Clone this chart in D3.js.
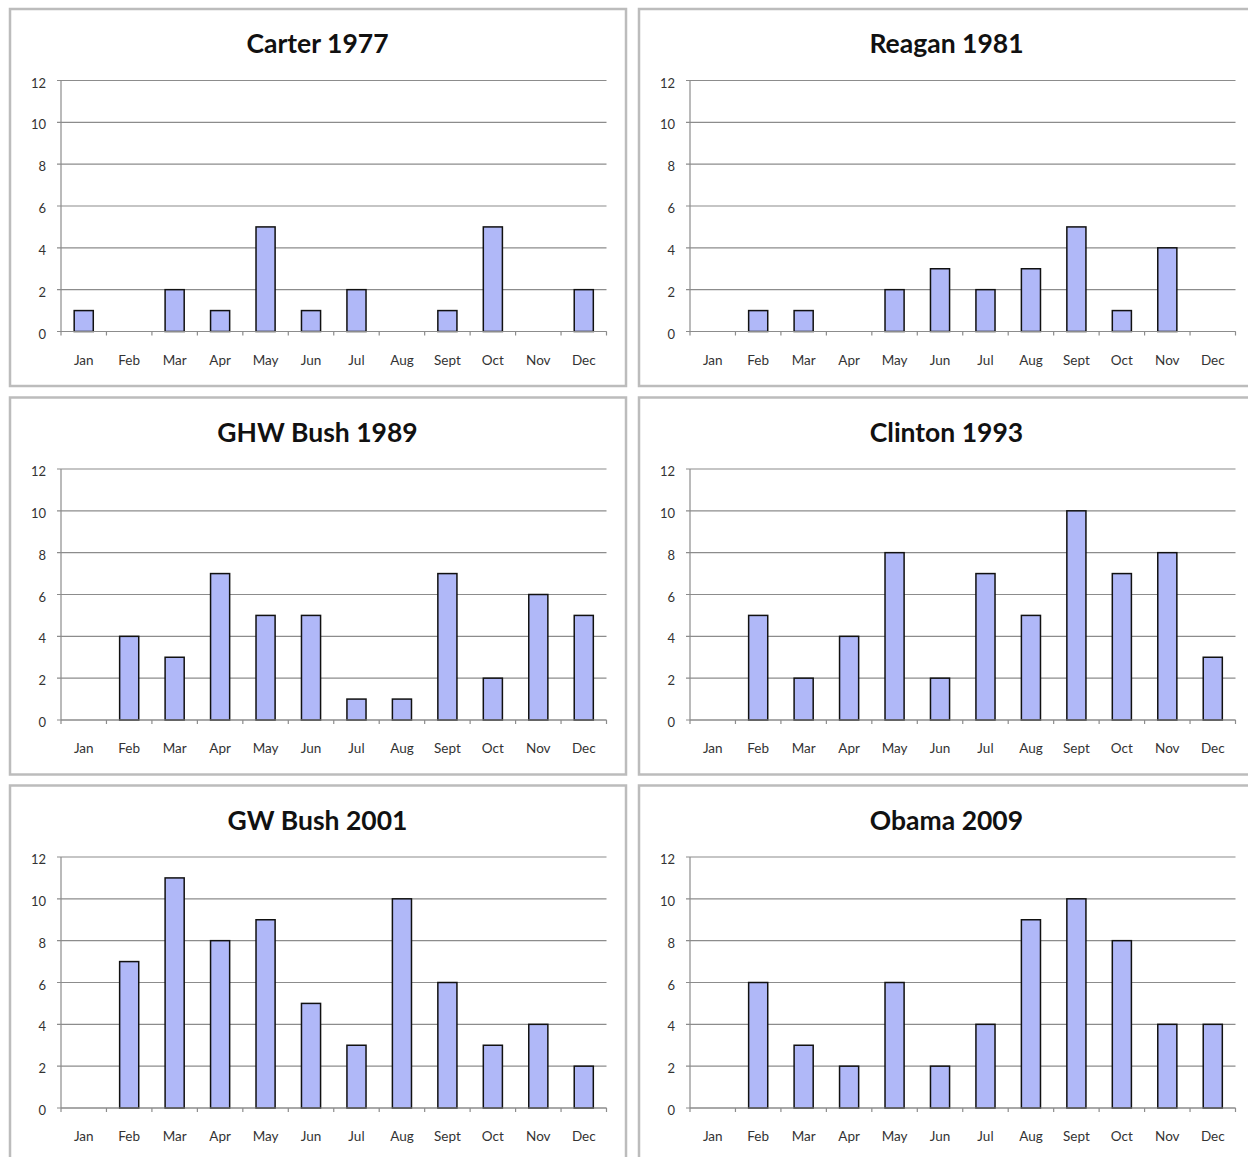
<!DOCTYPE html>
<html>
<head>
<meta charset="utf-8">
<script src="https://cdn.jsdelivr.net/npm/d3@7"></script>
<style>
  html, body { margin: 0; padding: 0; background: #fff; }
  svg { display: block; }
  text { font-family: Lato, "Open Sans", sans-serif; }
</style>
</head>
<body>
<svg id="chart" width="1248" height="1157"></svg>
<script>
// Monthly counts for the first year of each administration
const months = ["Jan", "Feb", "Mar", "Apr", "May", "Jun", "Jul", "Aug", "Sept", "Oct", "Nov", "Dec"];
const titles = ["Carter 1977", "Reagan 1981", "GHW Bush 1989", "Clinton 1993", "GW Bush 2001", "Obama 2009"];
const carter1977   = [1, 0, 2, 1, 5, 1, 2, 0, 1, 5, 0, 2];
const reagan1981   = [0, 1, 1, 0, 2, 3, 2, 3, 5, 1, 4, 0];
const ghwBush1989  = [0, 4, 3, 7, 5, 5, 1, 1, 7, 2, 6, 5];
const clinton1993  = [0, 5, 2, 4, 8, 2, 7, 5, 10, 7, 8, 3];
const gwBush2001   = [0, 7, 11, 8, 9, 5, 3, 10, 6, 3, 4, 2];
const obama2009    = [0, 6, 3, 2, 6, 2, 4, 9, 10, 8, 4, 4];
const yTicks = [0, 2, 4, 6, 8, 10, 12];

const seriesList = [carter1977, reagan1981, ghwBush1989, clinton1993, gwBush2001, obama2009];

const svg = d3.select("#chart");

const colX = [10, 639];
const rowY = [9, 397.5, 785.5];
const panelW = [616, 640];
const panelH = 377;

const plotLeft = 51, plotW = 545.5, plotTop = 71.5, plotH = 251;

const x = d3.scaleBand().domain(months).range([0, plotW]).padding(0);
const y = d3.scaleLinear().domain([0, 12]).range([plotH, 0]);
const barW = x.bandwidth() * 0.42;

seriesList.forEach((vals, i) => {
  const col = i % 2, row = Math.floor(i / 2);
  const g = svg.append("g").attr("transform", `translate(${colX[col]},${rowY[row]})`);

  // frame
  g.append("rect")
    .attr("x", 0).attr("y", 0)
    .attr("width", panelW[col]).attr("height", panelH)
    .attr("fill", "#fff")
    .attr("stroke", "#bcbcbc")
    .attr("stroke-width", 2.5);

  // title
  g.append("text")
    .attr("x", 307.5).attr("y", 44)
    .attr("text-anchor", "middle")
    .attr("font-size", 26.5)
    .attr("font-weight", "bold")
    .attr("fill", "#111")
    .text(titles[i]);

  const plot = g.append("g").attr("transform", `translate(${plotLeft},${plotTop})`);

  // horizontal gridlines with short left ticks
  plot.append("g").selectAll("line")
    .data(yTicks)
    .join("line")
    .attr("x1", -4).attr("x2", plotW)
    .attr("y1", d => y(d)).attr("y2", d => y(d))
    .attr("stroke", "#8c8c8c")
    .attr("stroke-width", 1.2);

  // y tick labels
  plot.append("g").selectAll("text")
    .data(yTicks)
    .join("text")
    .attr("x", -15)
    .attr("y", d => y(d) + 7)
    .attr("text-anchor", "end")
    .attr("font-size", 13)
    .attr("fill", "#333")
    .text(d => d);

  // y axis line
  plot.append("line")
    .attr("x1", 0).attr("x2", 0)
    .attr("y1", 0).attr("y2", plotH)
    .attr("stroke", "#8c8c8c")
    .attr("stroke-width", 1.2);

  // bars
  plot.append("g").selectAll("rect")
    .data(months.map((m, k) => ({ m, v: vals[k] })).filter(d => d.v > 0))
    .join("rect")
    .attr("x", d => x(d.m) + (x.bandwidth() - barW) / 2)
    .attr("y", d => y(d.v))
    .attr("width", barW)
    .attr("height", d => y(0) - y(d.v))
    .attr("fill", "#b0b8f8")
    .attr("stroke", "#111")
    .attr("stroke-width", 1.5);

  // x axis: baseline, boundary ticks, month labels
  plot.append("line")
    .attr("x1", 0).attr("x2", plotW)
    .attr("y1", plotH).attr("y2", plotH)
    .attr("stroke", "#8c8c8c")
    .attr("stroke-width", 1.2);

  const bounds = months.map(m => x(m)).concat([plotW]);
  plot.append("g").selectAll("line")
    .data(bounds)
    .join("line")
    .attr("x1", d => d).attr("x2", d => d)
    .attr("y1", plotH).attr("y2", plotH + 4)
    .attr("stroke", "#8c8c8c")
    .attr("stroke-width", 1.2);

  plot.append("g").selectAll("text")
    .data(months)
    .join("text")
    .attr("x", d => x(d) + x.bandwidth() / 2)
    .attr("y", plotH + 33)
    .attr("text-anchor", "middle")
    .attr("font-size", 13.5)
    .attr("fill", "#333")
    .text(d => d);
});
</script>
</body>
</html>
